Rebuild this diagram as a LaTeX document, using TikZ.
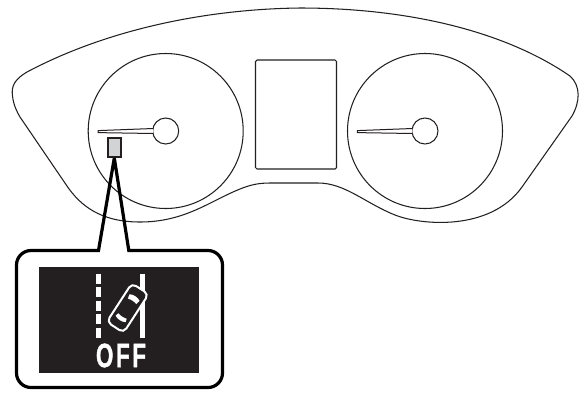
\documentclass[tikz,border=0pt]{standalone}
\usepackage{graphicx}
\usepackage{fontspec}
\setmainfont{Liberation Sans}
\definecolor{ink}{HTML}{231F20}
\definecolor{lamp}{HTML}{D1D3D4}
\tikzset{
  thin line/.style={draw=ink,line width=1.05pt},
  callout line/.style={draw=black,line width=3.2pt,line join=miter},
  icon line/.style={draw=white,line width=4.4pt},
  needle/.style={draw=ink,fill=white,line width=1pt,line join=round},
}
\begin{document}
\begin{tikzpicture}[x=1pt,y=-1pt]
\useasboundingbox (0,0) rectangle (580,392);
\fill[white] (0,0) rectangle (580,392);
% cluster outline
\draw[thin line] (300,8)
  .. controls (210,9) and (110,28) .. (27,72)
  .. controls (15,79) and (11,86) .. (12.5,96)
  .. controls (13.5,105) and (17,112) .. (20,117)
  -- (67,186)
  .. controls (80,205) and (100,222) .. (140,222)
  .. controls (185,222) and (210,201) .. (240,189)
  .. controls (250,185) and (258,183) .. (270,183)
  -- (318,183)
  .. controls (345,183) and (365,203) .. (395,215)
  .. controls (420,225) and (490,232) .. (522,187)
  -- (572,116)
  .. controls (580,102) and (581,86) .. (570,76)
  .. controls (500,28) and (400,8) .. (300,8) -- cycle;
% gauges
\node[circle,thin line,minimum size=155pt,inner sep=0pt] (leftgauge) at (165.7,131) {};
\node[circle,thin line,minimum size=155pt,inner sep=0pt] (rightgauge) at (425,131) {};
\node[circle,thin line,minimum size=26pt,inner sep=0pt] (lefthub) at (165.7,131) {};
\node[circle,thin line,minimum size=26pt,inner sep=0pt] (righthub) at (425,131) {};
% needles
\draw[needle] (153.2,133.5) -- (98,132.6) -- (98,130.6) -- (153.2,128.5);
\draw[needle] (412.4,133.5) -- (357.3,132.6) -- (357.3,130.6) -- (412.4,128.5);
% display
\node[thin line,rounded corners=1.5pt,minimum width=81pt,minimum height=109pt,inner sep=0pt] (screen) at (296,114.5) {};
% callout
\node[draw=ink,fill=lamp,line width=2pt,minimum width=13.5pt,minimum height=19.5pt,inner sep=0pt] (lamp) at (114.3,147.3) {};
\coordinate (apex) at (lamp.south);
\coordinate (footL) at (98.5,250.5);
\coordinate (footR) at (128.8,250.5);
\draw[callout line]
  (apex) -- (footL) -- (31,250.5) .. controls (23,250.5) and (16.5,257) .. (16.5,265)
  -- (16.5,373) .. controls (16.5,381) and (23,387.5) .. (31,387.5)
  -- (208,387.5) .. controls (216,387.5) and (222.5,381) .. (222.5,373)
  -- (222.5,265) .. controls (222.5,257) and (216,250.5) .. (208,250.5)
  -- (footR) -- (apex);
% panel
\node[fill=ink,minimum width=160pt,minimum height=106pt,inner sep=0pt] (panel) at (119,320) {};
% lane markings
\foreach \a/\b in {273.5/284,287/297,300.5/310.5,314/324,327.5/337.5}
  \draw[icon line] (98.3,\a) -- (98.3,\b);
\draw[icon line] (142.3,273.5) -- (142.3,337.5);
% car
\begin{scope}[shift={(127.7,308)},rotate=-33]
  \draw[draw=white,fill=ink,line width=2pt,rounded corners=5pt] (-10,-23) rectangle (10,23);
  \fill[white] (-6,-12.5) .. controls (-3,-14.5) and (3,-14.5) .. (6,-12.5) -- (5,-8) .. controls (2,-9) and (-2,-9) .. (-5,-8) -- cycle;
  \fill[white] (-6,13) .. controls (-3,15) and (3,15) .. (6,13) -- (5,9.5) .. controls (2,10.5) and (-2,10.5) .. (-5,9.5) -- cycle;
\end{scope}
% label
\node[text=white,inner sep=0pt,anchor=center] (off) at (121,355.5) {\resizebox{50pt}{23.5pt}{\bfseries\addfontfeature{LetterSpace=12,FakeBold=1.5}OFF}};
\end{tikzpicture}
\end{document}
